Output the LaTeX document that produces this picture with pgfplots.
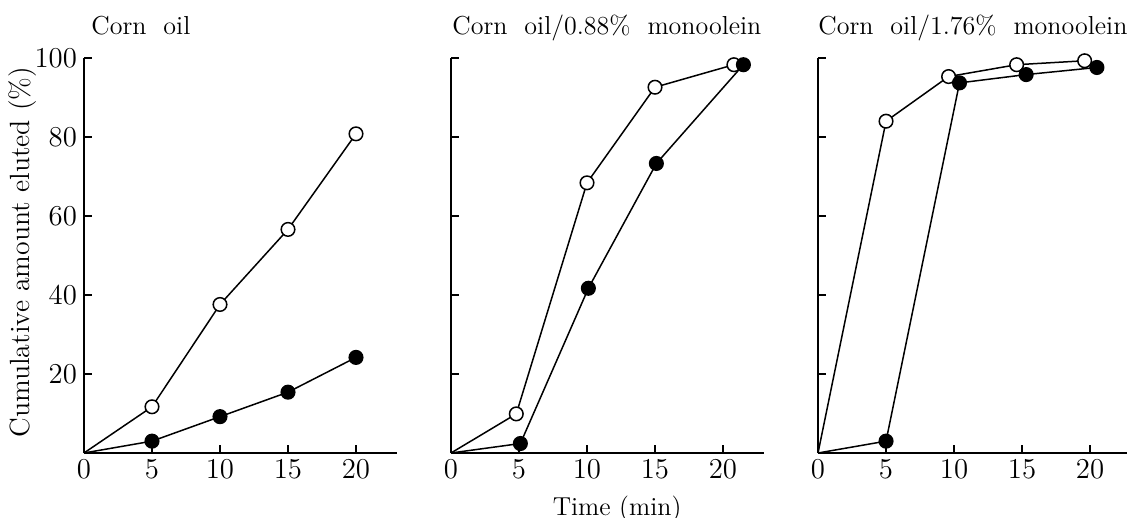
\documentclass[border=0pt]{standalone}
\usepackage{pgfplots}
\pgfplotsset{compat=1.18}
\begin{document}
\begin{tikzpicture}
\pgfplotsset{
  panel/.style={
    scale only axis, width=156.4pt, height=197.5pt,
    xmin=0, xmax=23, ymin=0, ymax=100,
    axis x line*=bottom, axis y line*=left,
    axis line style={-, line width=0.7pt},
    xtick={0,5,10,15,20}, ytick={20,40,60,80,100},
    tick align=inside, major tick length=4pt,
    tick style={black, line width=0.6pt},
    tick label style={font=\fontsize{13.5}{14}\selectfont},
    clip=false,
    title style={at={(0,1)}, anchor=base west, yshift=5.5pt, inner sep=0pt,
                 font=\fontsize{13}{15}\selectfont},
  },
  open/.style={black, line width=0.75pt, mark=*, mark size=3.4pt,
               mark indices={2,3,4,5}, mark options={fill=white, line width=0.75pt}},
  full/.style={black, line width=0.75pt, mark=*, mark size=3.4pt,
               mark indices={2,3,4,5}, mark options={fill=black}},
}
\useasboundingbox (0,0) rectangle (563.5pt,259pt);

% Corn oil
\begin{axis}[panel, at={(42pt,32.5pt)}, anchor=south west,
  title={Corn\hspace{0.65em}oil}, title style={xshift=3.5pt},
  ylabel={Cumulative amount eluted (\%)},
  ylabel style={at={(axis description cs:-0.195,0.508)}, anchor=center,
                font=\fontsize{13.9}{16}\selectfont},
]
\addplot[open] coordinates {(0,0) (5,11.7) (10,37.6) (15,56.6) (20,80.8)};
\addplot[full] coordinates {(0,0) (5,3.0) (10,9.2) (15,15.4) (20,24.2)};
\end{axis}

% Corn oil / 0.88% monoolein
\begin{axis}[panel, at={(225.5pt,32.5pt)}, anchor=south west,
  title={Corn\hspace{0.65em}oil/0.88\%\hspace{0.65em}monoolein}, title style={xshift=0.5pt},
  yticklabels={},
  xlabel={Time (min)},
  xlabel style={at={(axis description cs:0.531,-0.158)}, anchor=base,
                font=\fontsize{13}{15}\selectfont},
]
\addplot[open] coordinates {(0,0) (4.8,9.9) (10,68.4) (15,92.6) (20.8,98.3)};
\addplot[full] coordinates {(0,0) (5.1,2.4) (10.1,41.7) (15.1,73.3) (21.5,98.3)};
\end{axis}

% Corn oil / 1.76% monoolein
\begin{axis}[panel, at={(409pt,32.5pt)}, anchor=south west, xmax=22.7,
  width=154.4pt,
  title={Corn\hspace{0.65em}oil/1.76\%\hspace{0.65em}monoolein},
  yticklabels={},
]
\addplot[open] coordinates {(0,0) (5,84) (9.6,95.3) (14.6,98.3) (19.6,99.3)};
\addplot[full] coordinates {(0,0) (5,3.0) (10.4,93.7) (15.3,95.8) (20.5,97.6)};
\end{axis}
\end{tikzpicture}
\end{document}
